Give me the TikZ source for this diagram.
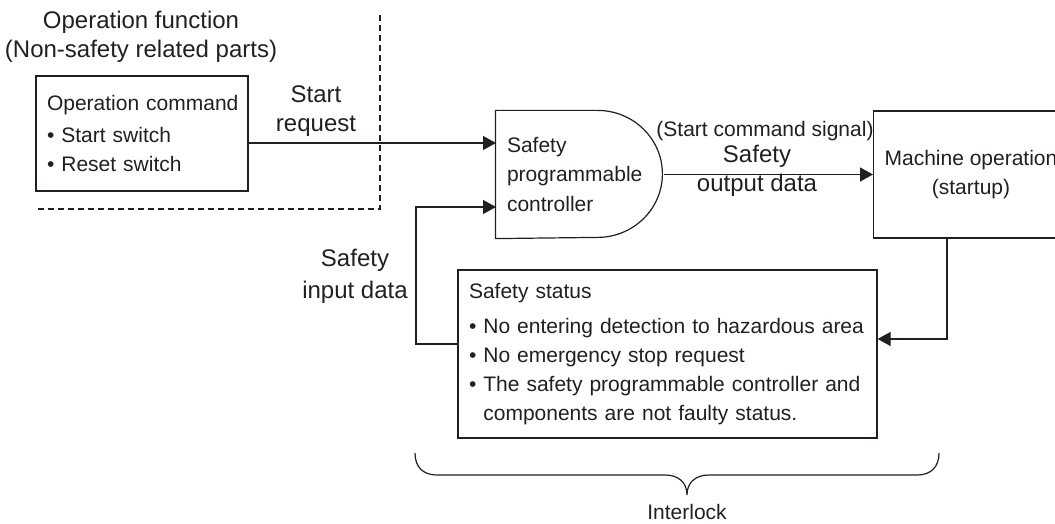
\documentclass[tikz,border=0pt]{standalone}
\usepackage{fontspec}
\setmainfont{Liberation Sans}
\usetikzlibrary{arrows.meta}
\definecolor{ink}{RGB}{35,31,32}

\begin{document}
\begin{tikzpicture}[x=1pt,y=-1pt,line width=1.2pt,color=ink]
    \tikzstyle{box}=[draw,rectangle,inner xsep=11pt,inner ysep=0pt,align=left,font=\fontsize{21}{29}\selectfont]
    \tikzstyle{caption}=[align=center,inner sep=0pt,font=\fontsize{24}{29}\selectfont]
    \tikzstyle{small}=[align=center,inner sep=0pt,font=\fontsize{21}{29}\selectfont]
    \tikzstyle{arrow}=[-{Triangle[length=13pt,width=14pt]}]
    \clip (0,0) rectangle (1055,524);

    % blocks
    \node[box,text width=190pt,minimum height=115pt] (opcmd) at (142,133.5)
        {\mbox{Operation command}\\[3pt]\textbullet\ Start switch\\\textbullet\ Reset switch};
    \node[box,draw=none,text width=145pt,minimum height=127pt,
        font=\fontsize{21}{29.5}\selectfont] (ctl) at (579.5,174.5)
        {Safety\\programmable\\controller};
    \draw (ctl.north west) -- ++(102,0)
        arc[start angle=-90,end angle=90,x radius=65,y radius=63.5] -- (ctl.south west) -- cycle;
    \node[box,align=center,minimum width=182pt,minimum height=127pt] (mach) at (971,174.5)
        {Machine operation\\(startup)};
    \node[box,text width=397pt,minimum height=168pt] (status) at (667.5,354)
        {Safety status\\[6pt]
         \textbullet\ No entering detection to hazardous area\\
         \textbullet\ No emergency stop request\\
         \textbullet\ The safety programmable controller and\\
         \phantom{\textbullet\ }components are not faulty status.};

    % labels
    \node[caption] (opfunc) at (141,37) {Operation function\\(Non-safety related parts)};
    \node[caption] (startreq) at (316,111) {Start\\request};
    \node[small] (cmdsig) at (765,131) {(Start command signal)};
    \node[caption] (outdata) at (757,171) {Safety\\output data};
    \node[caption,font=\fontsize{24}{32}\selectfont] (indata) at (355,276) {Safety\\input data};
    \node[small] (interlock) at (687,512) {Interlock};

    % non-safety area
    \draw[dashed,dash pattern=on 6pt off 4pt,line width=1.1pt] (380,15) -- (380,209) -- (36,209);

    % connectors
    \coordinate (in1) at (496,143);
    \coordinate (in2) at (496,207);
    \coordinate (fb) at (416,344);
    \coordinate (ret) at (947,339);
    \draw[arrow] (opcmd.east |- in1) -- (in1);
    \draw[arrow] (ctl.east) -- (mach.west);
    \draw[arrow] (ret |- mach.south) -- (ret) -- (ret -| status.east);
    \draw[arrow] (status.west |- fb) -- (fb) |- (in2);

    % interlock brace
    \draw (415,453) .. controls (415,467) and (423,475) .. (437,475) -- (665,475)
        .. controls (679,475) and (687,483) .. (687,495)
        .. controls (687,483) and (695,475) .. (709,475) -- (917,475)
        .. controls (931,475) and (939,467) .. (939,453);
\end{tikzpicture}
\end{document}
